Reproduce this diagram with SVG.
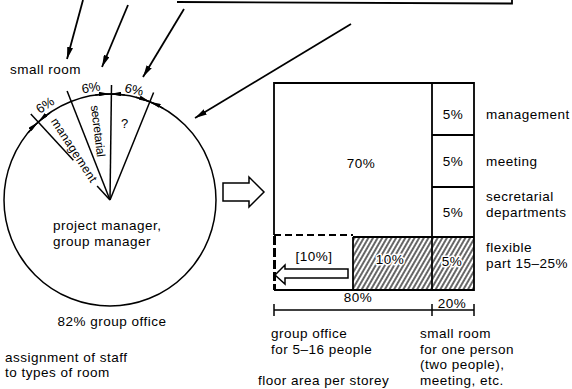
<svg xmlns="http://www.w3.org/2000/svg" width="572" height="389" viewBox="0 0 572 389">
<style>
text{font-family:"Liberation Sans",Arial,sans-serif;fill:#000}
.t{font-size:13.5px;letter-spacing:0.5px}
.s{font-size:12px}
.p{font-size:13px}
.ln{stroke:#000;stroke-width:1.8;fill:none}
.th{stroke:#000;stroke-width:1.5;fill:none}
.halo{paint-order:stroke;stroke:#fff;stroke-width:3px;stroke-linejoin:round}
</style>
<defs>
<marker id="arr" viewBox="0 0 12 6" refX="12" refY="3" markerWidth="12" markerHeight="6" markerUnits="userSpaceOnUse" orient="auto"><path d="M0,0 L12,3 L0,6 z" fill="#000"/></marker>
<marker id="dim" viewBox="0 0 11 4.4" refX="11" refY="2.2" markerWidth="11" markerHeight="4.4" markerUnits="userSpaceOnUse" orient="auto"><path d="M0,0 L11,2.2 L0,4.4 z" fill="#000"/></marker>
<pattern id="hatch" patternUnits="userSpaceOnUse" width="4" height="10" patternTransform="rotate(30)"><line x1="2" y1="-1" x2="2" y2="11" stroke="#000" stroke-width="1.2"/></pattern>
</defs>

<g id="top-box">
<path class="ln" d="M177,2 L512,3.5 L512,0"/>
</g>

<g id="connectors">
<line class="ln" x1="83" y1="0" x2="67" y2="59" marker-end="url(#arr)"/>
<line class="ln" x1="128" y1="5" x2="102" y2="67" marker-end="url(#arr)"/>
<line class="ln" x1="184" y1="9" x2="143" y2="77" marker-end="url(#arr)"/>
<line class="ln" x1="351" y1="24" x2="195" y2="118" marker-end="url(#arr)"/>
<polygon id="hollow-arrow" class="th" points="223,183 249,183 249,177 264,192 249,207 249,201 223,201"/>
</g>

<g id="small-room-label">
<text class="t" x="10" y="74">small room</text>
</g>

<g id="pie">
<circle class="th" cx="110" cy="200" r="106"/>
<line class="th" x1="110" y1="200" x2="111.5" y2="85"/>
<line class="th" x1="110" y1="200" x2="153.6" y2="92.5"/>
<line class="th" x1="110" y1="200" x2="67.1" y2="91.1"/>
<line class="th" x1="30.8" y1="113.9" x2="73.4" y2="160.3"/>
<line class="th" x1="97.1" y1="186" x2="110" y2="200"/>
<path class="th" d="M28.1,132.7 A106,106 0 0 1 38.2,122" marker-end="url(#dim)"/>
<path class="th" d="M49.8,112.8 A106,106 0 0 0 38.2,122" marker-end="url(#dim)"/>
<path class="th" d="M95.2,95 A106,106 0 0 1 110,94" marker-end="url(#dim)"/>
<path class="th" d="M124.8,95 A106,106 0 0 0 110,94" marker-end="url(#dim)"/>
<path class="th" d="M135.8,97.2 A106,106 0 0 1 149.9,101.8" marker-end="url(#dim)"/>
<path class="th" d="M163.2,108.3 A106,106 0 0 0 149.9,101.8" marker-end="url(#dim)"/>
<text class="p" text-anchor="middle" transform="translate(47.6,108.8) rotate(-34)">6%</text>
<text class="p" text-anchor="middle" transform="translate(91.7,92) rotate(-9.6)">6%</text>
<text class="p" text-anchor="middle" transform="translate(133.1,94) rotate(12.3)">6%</text>
<text class="s" text-anchor="middle" transform="translate(70.6,152.2) rotate(57)" textLength="74">management</text>
<text class="s" text-anchor="middle" transform="translate(94,131.5) rotate(83)" textLength="52">secretarial</text>
<text class="p" x="124.5" y="128" text-anchor="middle">?</text>
<text class="t" x="53" y="230">project manager,</text>
<text class="t" x="53" y="246">group manager</text>
<text class="t" x="112" y="326" text-anchor="middle">82% group office</text>
</g>

<g id="assignment-label">
<text class="t" x="5" y="362">assignment of staff</text>
<text class="t" x="5" y="377">to types of room</text>
</g>

<g id="floor-plan">
<rect x="353" y="237" width="121" height="53" fill="url(#hatch)"/>
<path class="ln" d="M274,235 L274,83 L474,83 L474,290 L274,290"/>
<line class="ln" x1="432" y1="83" x2="432" y2="290"/>
<line class="ln" x1="432" y1="135" x2="474" y2="135"/>
<line class="ln" x1="432" y1="187" x2="474" y2="187"/>
<line class="ln" x1="353" y1="237" x2="474" y2="237"/>
<line class="ln" x1="353" y1="237" x2="353" y2="290"/>
<line class="ln" x1="274" y1="235" x2="353" y2="235" stroke-dasharray="7 4"/>
<line x1="274.5" y1="236" x2="274.5" y2="290" stroke="#000" stroke-width="3" stroke-dasharray="9 3"/>
<polygon class="th" points="275,275 285,265 285,269 348,269 348,278 285,278 285,284"/>
<text class="t" x="361" y="168" text-anchor="middle">70%</text>
<text class="t" x="453" y="119" text-anchor="middle">5%</text>
<text class="t" x="453" y="166" text-anchor="middle">5%</text>
<text class="t" x="453" y="217" text-anchor="middle">5%</text>
<text class="t" x="314" y="261" text-anchor="middle">[10%]</text>
<text class="t halo" x="390" y="264" text-anchor="middle">10%</text>
<text class="t halo" x="452" y="266" text-anchor="middle">5%</text>
</g>

<g id="right-labels">
<text class="t" x="486" y="119">management</text>
<text class="t" x="486" y="166">meeting</text>
<text class="t" x="486" y="201">secretarial</text>
<text class="t" x="486" y="217">departments</text>
<text class="t" x="486" y="252">flexible</text>
<text class="t" x="486" y="268">part 15–25%</text>
</g>

<g id="dimension">
<line class="th" x1="274" y1="310" x2="474" y2="310"/>
<line class="th" x1="274" y1="304" x2="274" y2="316"/>
<line class="th" x1="432" y1="304" x2="432" y2="316"/>
<line class="th" x1="474" y1="304" x2="474" y2="316"/>
<text class="t" x="358" y="302" text-anchor="middle">80%</text>
<text class="t" x="452" y="308" text-anchor="middle">20%</text>
</g>

<g id="bottom-labels">
<text class="t" x="271" y="338">group office</text>
<text class="t" x="271" y="353.5">for 5–16 people</text>
<text class="t" x="258" y="385">floor area per storey</text>
<text class="t" x="420" y="338">small room</text>
<text class="t" x="420" y="353.5">for one person</text>
<text class="t" x="420" y="369">(two people),</text>
<text class="t" x="420" y="385">meeting, etc.</text>
</g>
</svg>
